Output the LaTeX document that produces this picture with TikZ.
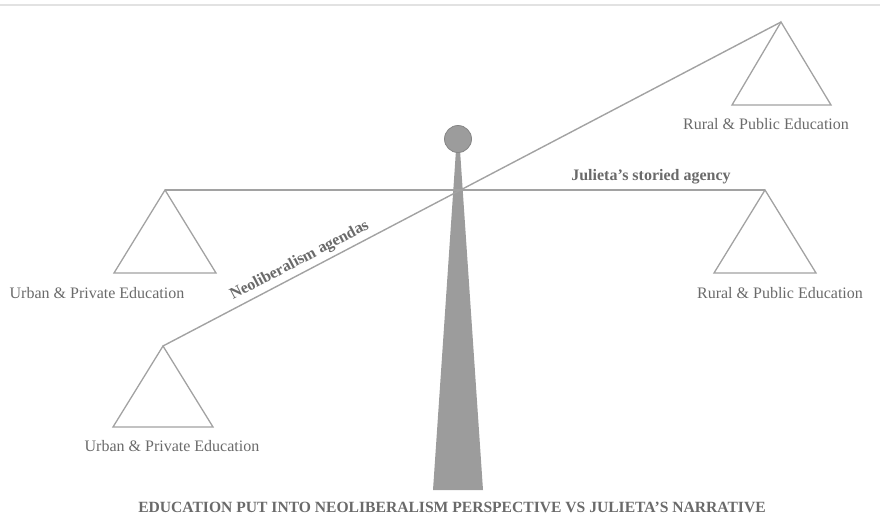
\documentclass[tikz,border=0pt]{standalone}
\usepackage{fontspec}
\setmainfont{Liberation Serif}
\usetikzlibrary{positioning}

\definecolor{linegray}{HTML}{A2A2A2}
\definecolor{textgray}{HTML}{6A6A6A}
\definecolor{polegray}{HTML}{9C9C9C}
\definecolor{rulegray}{HTML}{E2E2E2}

\tikzset{
  beam/.style={draw=linegray, line width=1.4pt},
  pan/.style={draw=linegray, line width=1.3pt, line join=miter},
  edu/.style={text=textgray, font=\fontsize{16}{18}\selectfont, inner sep=1pt},
  tag/.style={text=textgray, font=\fontsize{16}{18}\selectfont\bfseries, inner sep=1pt},
}

\begin{document}
\begin{tikzpicture}[x=1pt, y=-1pt]
    \useasboundingbox (0,0) rectangle (880,522);
    \draw[rulegray, line width=2pt] (0,5) -- (880,5);

        % stand
        \fill[polegray] (456,150) -- (460,150) -- (483,490) -- (433,490) -- cycle;
        \node[circle, fill=polegray, draw=polegray!85!black, line width=0.8pt, minimum size=27pt, inner sep=0pt] (ball) at (458,139) {};

        % beam ends
        \coordinate (hl) at (165,190);
        \coordinate (hr) at (765,190);
        \coordinate (tl) at (163,346);
        \coordinate (tr) at (781,22);

        \draw[beam] (hl) -- node[tag, pos=0.81, above=4pt] (agency) {Julieta's storied agency} (hr);
        \draw[beam] (tl) -- node[tag, pos=0.23, above=3pt, sloped] (agendas) {Neoliberalism agendas} (tr);

        % pans
        \draw[pan] (hl) -- ++(-51,83) -- ++(102,0) -- cycle;
        \draw[pan] (hr) -- ++(-51,83) -- ++(102,0) -- cycle;
        \draw[pan] (tl) -- ++(-50,81) -- ++(100,0) -- cycle;
        \draw[pan] (tr) -- ++(-49,83) -- ++(99,0) -- cycle;

        \node[edu] (urbanh) at (97,293) {Urban \& Private Education};
        \node[edu] (ruralh) at (780,293) {Rural \& Public Education};
        \node[edu] (urbant) at (172,446) {Urban \& Private Education};
        \node[edu] (ruralt) at (766,124) {Rural \& Public Education};

        \node[tag, font=\fontsize{15.6}{18}\selectfont\bfseries] (title) at (452,507) {EDUCATION PUT INTO NEOLIBERALISM PERSPECTIVE VS JULIETA'S NARRATIVE};
    \end{tikzpicture}
\end{document}
